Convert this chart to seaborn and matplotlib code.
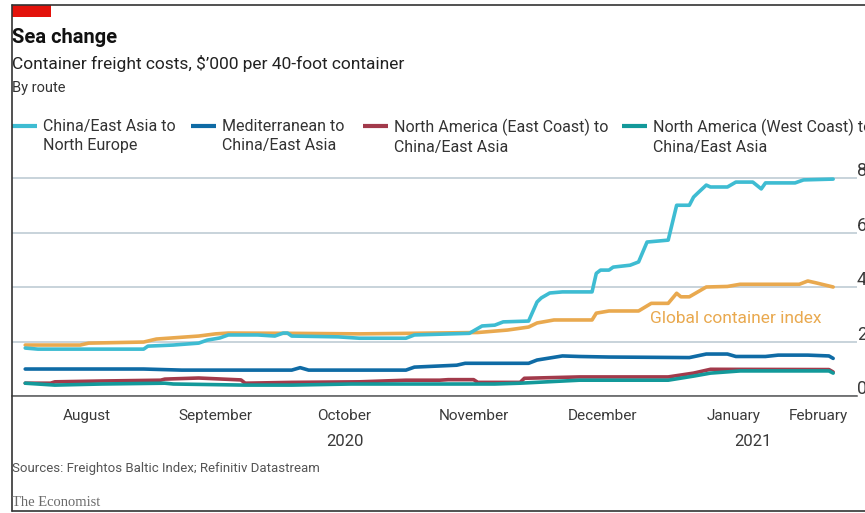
import matplotlib
matplotlib.use("Agg")
import matplotlib.pyplot as plt
import matplotlib.dates as mdates
from matplotlib.lines import Line2D
from matplotlib.patches import Rectangle
import seaborn as sns
import pandas as pd

# series labels and colours
routes = [
    "China/East Asia to\nNorth Europe",
    "Mediterranean to\nChina/East Asia",
    "North America (East Coast) to\nChina/East Asia",
    "North America (West Coast) to\nChina/East Asia",
]
route_colors = ["#3EBCD2", "#0F6BA5", "#A23A4B", "#13999A"]
index_label = "Global container index"
index_color = "#E9A94F"

# $'000 per 40-foot container
asia_europe_dates = [
    "2020-08-02", "2020-08-05", "2020-08-30", "2020-08-31", "2020-09-06", "2020-09-12",
    "2020-09-14", "2020-09-17", "2020-09-19", "2020-09-26", "2020-09-30", "2020-10-02",
    "2020-10-03", "2020-10-04", "2020-10-15", "2020-10-20", "2020-10-31", "2020-11-02",
    "2020-11-15", "2020-11-18", "2020-11-21", "2020-11-23", "2020-11-29", "2020-12-01",
    "2020-12-02", "2020-12-04", "2020-12-07", "2020-12-14", "2020-12-15", "2020-12-16",
    "2020-12-18", "2020-12-19", "2020-12-23", "2020-12-25", "2020-12-27", "2021-01-01",
    "2021-01-03", "2021-01-06", "2021-01-07", "2021-01-08", "2021-01-10", "2021-01-11",
    "2021-01-15", "2021-01-17", "2021-01-21", "2021-01-23", "2021-01-24", "2021-01-31",
    "2021-02-02", "2021-02-09",
]
asia_europe_values = [
    1.76, 1.72, 1.72, 1.83, 1.87, 1.94, 2.05, 2.13, 2.24, 2.24, 2.20, 2.31, 2.31, 2.20,
    2.17, 2.12, 2.12, 2.24, 2.30, 2.57, 2.60, 2.72, 2.75, 3.45, 3.60, 3.78, 3.82, 3.82,
    4.50, 4.62, 4.62, 4.73, 4.80, 4.92, 5.65, 5.72, 7.00, 7.00, 7.30, 7.45, 7.74, 7.67,
    7.67, 7.85, 7.85, 7.60, 7.82, 7.82, 7.93, 7.96,
]

med_asia_dates = [
    "2020-08-02", "2020-08-30", "2020-09-08", "2020-10-04", "2020-10-06", "2020-10-08",
    "2020-10-31", "2020-11-02", "2020-11-12", "2020-11-14", "2020-11-29", "2020-12-01",
    "2020-12-07", "2020-12-11", "2020-12-18", "2021-01-06", "2021-01-10", "2021-01-15",
    "2021-01-17", "2021-01-24", "2021-01-27", "2021-02-03", "2021-02-08", "2021-02-09",
]
med_asia_values = [
    0.99, 0.99, 0.95, 0.95, 1.04, 0.95, 0.95, 1.06, 1.13, 1.20, 1.20, 1.32, 1.47, 1.45,
    1.43, 1.41, 1.54, 1.54, 1.45, 1.45, 1.50, 1.50, 1.47, 1.38,
]

na_east_dates = [
    "2020-08-02", "2020-08-08", "2020-08-09", "2020-08-20", "2020-09-03", "2020-09-04",
    "2020-09-12", "2020-09-22", "2020-09-23", "2020-10-04", "2020-10-20", "2020-10-31",
    "2020-11-08", "2020-11-10", "2020-11-16", "2020-11-17", "2020-11-27", "2020-11-28",
    "2020-12-11", "2021-01-01", "2021-01-07", "2021-01-11", "2021-02-08", "2021-02-09",
]
na_east_values = [
    0.47, 0.47, 0.52, 0.55, 0.58, 0.62, 0.66, 0.59, 0.47, 0.50, 0.52, 0.58, 0.58, 0.60,
    0.60, 0.50, 0.50, 0.65, 0.70, 0.70, 0.84, 0.98, 0.97, 0.88,
]

na_west_dates = [
    "2020-08-02", "2020-08-09", "2020-08-20", "2020-09-04", "2020-09-06", "2020-09-23",
    "2020-10-04", "2020-10-18", "2020-11-21", "2020-11-27", "2020-12-11", "2021-01-01",
    "2021-01-07", "2021-01-11", "2021-01-18", "2021-02-08", "2021-02-09",
]
na_west_values = [
    0.47, 0.40, 0.44, 0.47, 0.44, 0.40, 0.40, 0.44, 0.44, 0.47, 0.58, 0.58, 0.73, 0.84,
    0.92, 0.92, 0.84,
]

index_dates = [
    "2020-08-02", "2020-08-15", "2020-08-17", "2020-08-30", "2020-09-02", "2020-09-12",
    "2020-09-16", "2020-09-19", "2020-10-04", "2020-10-20", "2020-11-01", "2020-11-17",
    "2020-11-24", "2020-11-29", "2020-12-01", "2020-12-05", "2020-12-14", "2020-12-15",
    "2020-12-18", "2020-12-25", "2020-12-28", "2021-01-01", "2021-01-03", "2021-01-04",
    "2021-01-06", "2021-01-10", "2021-01-15", "2021-01-18", "2021-02-01", "2021-02-03",
    "2021-02-05", "2021-02-09",
]
index_values = [
    1.87, 1.87, 1.94, 1.98, 2.09, 2.20, 2.28, 2.31, 2.30, 2.28, 2.30, 2.33, 2.42, 2.53,
    2.68, 2.79, 2.79, 3.04, 3.12, 3.12, 3.40, 3.40, 3.77, 3.64, 3.64, 4.00, 4.02, 4.10,
    4.10, 4.22, 4.15, 4.00,
]

# axis ticks / labels
month_edges = ["2020-08-01", "2020-09-01", "2020-10-01", "2020-11-01", "2020-12-01",
               "2021-01-01", "2021-02-01", "2021-02-10"]
month_names = ["August", "September", "October", "November", "December", "January", "February"]
year_labels = ["2020", "2021"]
y_ticks = [0, 2, 4, 6, 8]

frames = [
    pd.DataFrame({"date": pd.to_datetime(index_dates), "value": index_values, "series": index_label}),
    pd.DataFrame({"date": pd.to_datetime(asia_europe_dates), "value": asia_europe_values, "series": routes[0]}),
    pd.DataFrame({"date": pd.to_datetime(med_asia_dates), "value": med_asia_values, "series": routes[1]}),
    pd.DataFrame({"date": pd.to_datetime(na_east_dates), "value": na_east_values, "series": routes[2]}),
    pd.DataFrame({"date": pd.to_datetime(na_west_dates), "value": na_west_values, "series": routes[3]}),
]
df = pd.concat(frames, ignore_index=True)

sns.set_style("white")
plt.rcParams["font.family"] = ["Roboto", "DejaVu Sans"]

W, H = 865, 513
fig = plt.figure(figsize=(W / 100, H / 100), dpi=100)
fig.patch.set_facecolor("white")

# axes box in pixels: x 12..857, baseline at y=396, 27.25 px per unit
ymax = 8.2
ax = fig.add_axes([12 / W, (H - 396) / H, 845 / W, ymax * 27.25 / H])

sns.lineplot(data=df, x="date", y="value", hue="series",
             hue_order=[index_label] + routes,
             palette=[index_color] + route_colors,
             linewidth=2.6, estimator=None, legend=False, ax=ax)

edges = mdates.date2num(pd.to_datetime(month_edges))
aug1 = edges[0]
ax.set_xlim(aug1 - 9 / 4.23, aug1 + 836 / 4.23)
ax.set_ylim(0, ymax)

ax.set_xlabel("")
ax.set_ylabel("")
ax.set_yticks(y_ticks)
ax.set_yticklabels([])
ax.tick_params(axis="y", length=0)
ax.grid(axis="y", color="#C8D3DB", linewidth=1.4)
ax.grid(axis="x", visible=False)
ax.set_axisbelow(True)
for side in ["left", "right", "top"]:
    ax.spines[side].set_visible(False)
ax.spines["bottom"].set_color("#555555")
ax.spines["bottom"].set_linewidth(1.1)

# x ticks at month boundaries, lengths vary
ax.set_xticks(edges)
ax.set_xticklabels([])
ax.tick_params(axis="x", direction="out", color="#555555", width=1.1)
tick_px = [3, 7, 7, 7, 7, 12, 7, 5]
for tk, L in zip(ax.xaxis.get_major_ticks(), tick_px):
    tk.tick1line.set_markersize(L * 0.72)

xt = ax.get_xaxis_transform()
for i, name in enumerate(month_names):
    ax.text((edges[i] + edges[i + 1]) / 2, -20 / 223.45, name, transform=xt,
            ha="center", va="center", fontsize=11, color="#3a3a3a")
ax.text((edges[0] + edges[5]) / 2, -45 / 223.45, year_labels[0], transform=xt,
        ha="center", va="center", fontsize=12, color="#3a3a3a")
ax.text((edges[5] + edges[7]) / 2, -45 / 223.45, year_labels[1], transform=xt,
        ha="center", va="center", fontsize=12, color="#3a3a3a")

# y labels sit on top of the gridlines, right side (cut by frame as in the original)
yt = ax.get_yaxis_transform()
for v in y_ticks:
    ax.text(1.0, v + 0.07, str(v), transform=yt, ha="left", va="baseline",
            fontsize=13, color="#3a3a3a", clip_on=False)

# line label
ax.text(mdates.date2num(pd.Timestamp("2020-12-27")) + 0.7, 2.83, index_label,
        ha="left", va="center", fontsize=12.5, color=index_color)

# legend, drawn by hand so handles sit on the first text line
leg_x = [12, 191, 363, 622]
for x0, lab, col in zip(leg_x, routes, route_colors):
    fig.add_artist(Line2D([x0 / W, (x0 + 25) / W], [1 - 126 / H] * 2,
                          color=col, linewidth=3, solid_capstyle="butt"))
    fig.text((x0 + 31) / W, 1 - 119 / H, lab, ha="left", va="top",
             fontsize=11.5, color="#333333", linespacing=1.32)

# titles
fig.text(12 / W, 1 - 43 / H, "Sea change", fontsize=14.5, fontweight="bold",
         color="#111111", va="baseline")
fig.text(12 / W, 1 - 69 / H, "Container freight costs, $\u2019000 per 40-foot container",
         fontsize=12.5, color="#222222", va="baseline")
fig.text(12 / W, 1 - 92 / H, "By route", fontsize=10.5, color="#333333", va="baseline")
fig.text(12 / W, 1 - 472 / H, "Sources: Freightos Baltic Index; Refinitiv Datastream",
         fontsize=9.5, color="#555555", va="baseline")
fig.text(12 / W, 1 - 506 / H, "The Economist", fontsize=10.5, color="#6a6a6a",
         va="baseline", family="Liberation Serif")

# frame and red tag
frame_col = "#333333"
fig.add_artist(Line2D([12 / W, 12 / W], [1 - 5 / H, 1 - 511 / H], color=frame_col, linewidth=1.2))
fig.add_artist(Line2D([12 / W, 1], [1 - 5 / H] * 2, color=frame_col, linewidth=1.2))
fig.add_artist(Line2D([12 / W, 1], [1 - 511 / H] * 2, color=frame_col, linewidth=1.2))
fig.add_artist(Rectangle((12 / W, 1 - 17 / H), 39 / W, 12 / H, transform=fig.transFigure,
                         facecolor="#E3120B", edgecolor="none"))

fig.savefig("out.png", dpi=100, facecolor="white")
